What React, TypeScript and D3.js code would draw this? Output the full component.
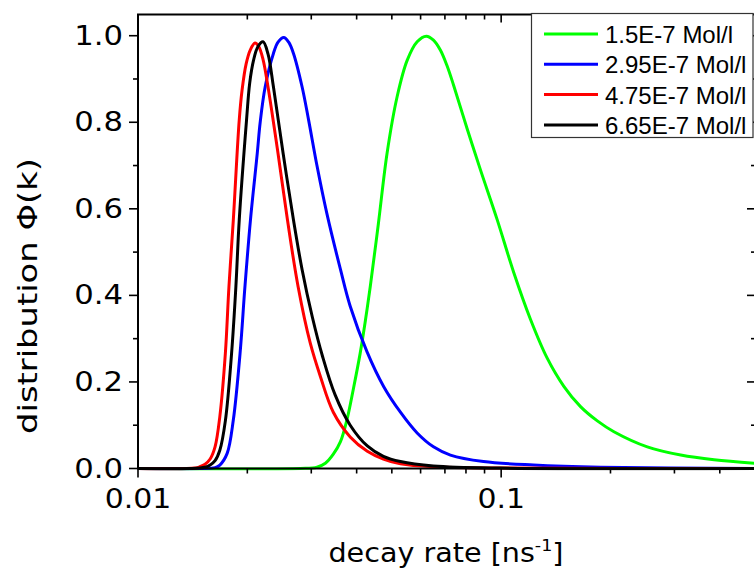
import React, { useEffect, useRef } from 'react';
import * as d3 from 'd3';

const seriesNames = ['1.5E-7 Mol/l', '2.95E-7 Mol/l', '4.75E-7 Mol/l', '6.65E-7 Mol/l'];
const seriesColors = ['#00ff00', '#0000ff', '#ff0000', '#000000'];

// decay rate k [ns^-1] and distribution phi(k)
const greenK = [0.01, 0.028, 0.0311, 0.0328, 0.0345, 0.0361, 0.0376, 0.0392, 0.0409, 0.0423, 0.0436, 0.0459, 0.0485, 0.0517, 0.0551, 0.0587, 0.0622, 0.0651, 0.068, 0.071, 0.074, 0.0806, 0.0877, 0.0975, 0.1083, 0.1204, 0.1339, 0.1488, 0.1654, 0.184, 0.2044, 0.2526, 0.3122, 0.3858, 0.5];
const greenPhi = [0, 0, 0.003, 0.012, 0.033, 0.062, 0.112, 0.185, 0.266, 0.343, 0.42, 0.565, 0.728, 0.859, 0.943, 0.986, 0.999, 0.99, 0.967, 0.93, 0.885, 0.785, 0.69, 0.575, 0.453, 0.345, 0.255, 0.19, 0.143, 0.11, 0.085, 0.05, 0.031, 0.02, 0.012];

const blueK = [0.01, 0.0148, 0.0163, 0.0168, 0.0176, 0.0183, 0.0191, 0.0197, 0.0204, 0.0213, 0.0217, 0.0224, 0.0236, 0.0243, 0.0252, 0.026, 0.0268, 0.0283, 0.0295, 0.0311, 0.0331, 0.0361, 0.0384, 0.0427, 0.0475, 0.0528, 0.0587, 0.0651, 0.0725, 0.0894, 0.1228, 0.1879, 0.5];
const bluePhi = [0, 0, 0.002, 0.008, 0.035, 0.112, 0.266, 0.42, 0.574, 0.728, 0.8, 0.882, 0.959, 0.985, 0.996, 0.985, 0.959, 0.882, 0.805, 0.7, 0.59, 0.46, 0.375, 0.27, 0.189, 0.13, 0.082, 0.05, 0.031, 0.016, 0.008, 0.003, 0];

const redK = [0.01, 0.0144, 0.0148, 0.0153, 0.0158, 0.0163, 0.0168, 0.0174, 0.0178, 0.0183, 0.019, 0.01935, 0.01985, 0.0204, 0.021, 0.0215, 0.0221, 0.0228, 0.0243, 0.0258, 0.0276, 0.0298, 0.0318, 0.0345, 0.0384, 0.0428, 0.0474, 0.0528, 0.0651, 0.0996, 0.5];
const redPhi = [0, 0.001, 0.004, 0.01, 0.022, 0.05, 0.12, 0.266, 0.42, 0.574, 0.805, 0.875, 0.935, 0.968, 0.983, 0.975, 0.945, 0.882, 0.728, 0.574, 0.42, 0.29, 0.212, 0.13, 0.073, 0.04, 0.022, 0.011, 0.004, 0.001, 0];

const blackK = [0.01, 0.0139, 0.0153, 0.0158, 0.0163, 0.0168, 0.0174, 0.0181, 0.0186, 0.019, 0.0199, 0.0203, 0.0208, 0.0214, 0.0221, 0.0228, 0.0236, 0.0251, 0.0268, 0.0283, 0.0302, 0.0322, 0.0349, 0.0384, 0.0428, 0.0474, 0.0528, 0.0651, 0.0996, 0.5];
const blackPhi = [0, 0, 0.003, 0.008, 0.018, 0.042, 0.11, 0.266, 0.42, 0.574, 0.805, 0.89, 0.943, 0.975, 0.986, 0.958, 0.882, 0.728, 0.574, 0.46, 0.35, 0.26, 0.17, 0.1, 0.052, 0.028, 0.016, 0.006, 0.001, 0];

const yTicks = [0, 0.2, 0.4, 0.6, 0.8, 1.0];
const yMinorTicks = [0.1, 0.3, 0.5, 0.7, 0.9];
const xTicks = [0.01, 0.1];
const xTickLabels = ['0.01', '0.1'];
const xMinorTicks = [0.02, 0.03, 0.04, 0.05, 0.06, 0.07, 0.08, 0.09, 0.2, 0.3, 0.4, 0.5];

const W = 754;
const H = 569;
const tickFont = 'DejaVu Sans, Verdana, sans-serif';

const Chart = () => {
  const ref = useRef(null);

  useEffect(() => {
    const svg = d3.select(ref.current);
    svg.selectAll('*').remove();

    const left = 138, right = 755, top = 14.5, bottom = 468.5;
    const x = d3.scaleLog().domain([0.01, 0.5]).range([left, right]);
    const y = d3.scaleLinear().domain([0, 1.049]).range([bottom, top]);

    const series = [
      { k: greenK, phi: greenPhi },
      { k: blueK, phi: bluePhi },
      { k: redK, phi: redPhi },
      { k: blackK, phi: blackPhi },
    ].map((s, i) => ({
      name: seriesNames[i],
      color: seriesColors[i],
      points: s.k.map((k, j) => ({ k, phi: s.phi[j] })),
    }));

    svg.append('rect').attr('width', W).attr('height', H).attr('fill', '#fff');

    svg.append('clipPath').attr('id', 'plot-clip')
      .append('rect')
      .attr('x', left).attr('y', top)
      .attr('width', right - left).attr('height', bottom - top + 2);

    const line = d3.line()
      .x(d => x(d.k))
      .y(d => y(d.phi))
      .curve(d3.curveCatmullRom.alpha(0.5));

    svg.append('g').attr('clip-path', 'url(#plot-clip)')
      .selectAll('path')
      .data(series)
      .join('path')
      .attr('fill', 'none')
      .attr('stroke', d => d.color)
      .attr('stroke-width', 3)
      .attr('stroke-linejoin', 'round')
      .attr('d', d => line(d.points));

    // frame
    svg.append('rect')
      .attr('x', left).attr('y', top)
      .attr('width', right - left).attr('height', bottom - top)
      .attr('fill', 'none').attr('stroke', '#000').attr('stroke-width', 2);

    const ticks = svg.append('g').attr('stroke', '#000').attr('stroke-width', 1.6);

    // left (outward) and right (inward)
    yTicks.forEach(v => {
      ticks.append('line').attr('x1', left - 9).attr('x2', left).attr('y1', y(v)).attr('y2', y(v));
      ticks.append('line').attr('x1', right - 8).attr('x2', right).attr('y1', y(v)).attr('y2', y(v));
    });
    yMinorTicks.forEach(v => {
      ticks.append('line').attr('x1', left - 5).attr('x2', left).attr('y1', y(v)).attr('y2', y(v));
      ticks.append('line').attr('x1', right - 4).attr('x2', right).attr('y1', y(v)).attr('y2', y(v));
    });
    // bottom (outward) and top (inward)
    xTicks.forEach(v => {
      ticks.append('line').attr('x1', x(v)).attr('x2', x(v)).attr('y1', bottom).attr('y2', bottom + 9);
      ticks.append('line').attr('x1', x(v)).attr('x2', x(v)).attr('y1', top).attr('y2', top + 8);
    });
    xMinorTicks.forEach(v => {
      ticks.append('line').attr('x1', x(v)).attr('x2', x(v)).attr('y1', bottom).attr('y2', bottom + 5);
      ticks.append('line').attr('x1', x(v)).attr('x2', x(v)).attr('y1', top).attr('y2', top + 5);
    });

    // tick labels, the source font runs wide so stretch horizontally
    svg.append('g').selectAll('text')
      .data(yTicks)
      .join('text')
      .attr('transform', d => `translate(${left - 15},${y(d) + 9}) scale(1.18,1)`)
      .attr('text-anchor', 'end')
      .attr('font-family', tickFont)
      .attr('font-size', 26)
      .attr('fill', '#000')
      .text(d => d3.format('.1f')(d));

    svg.append('g').selectAll('text')
      .data(xTicks)
      .join('text')
      .attr('transform', d => `translate(${x(d)},507.5) scale(1.15,1)`)
      .attr('text-anchor', 'middle')
      .attr('font-family', tickFont)
      .attr('font-size', 26)
      .attr('fill', '#000')
      .text((d, i) => xTickLabels[i]);

    // axis titles
    const xt = svg.append('text')
      .attr('transform', 'translate(446,562) scale(1.1,1)')
      .attr('text-anchor', 'middle')
      .attr('font-family', tickFont)
      .attr('font-size', 26)
      .attr('fill', '#000');
    xt.append('tspan').text('decay rate [ns');
    xt.append('tspan').attr('dy', -11).attr('font-size', 16).text('-1');
    xt.append('tspan').attr('dy', 11).text(']');

    svg.append('text')
      .attr('transform', 'translate(37,296) rotate(-90) scale(1.3,1)')
      .attr('text-anchor', 'middle')
      .attr('font-family', tickFont)
      .attr('font-size', 26)
      .attr('fill', '#000')
      .text('distribution \u03A6(k)');

    // legend
    const lg = svg.append('g');
    lg.append('rect')
      .attr('x', 531.5).attr('y', 13.5)
      .attr('width', 221.5).attr('height', 124)
      .attr('fill', '#fff').attr('stroke', '#333').attr('stroke-width', 1.2);
    const rows = lg.selectAll('g.row')
      .data(series)
      .join('g')
      .attr('class', 'row')
      .attr('transform', (d, i) => `translate(0,${34 + i * 30.3})`);
    rows.append('line')
      .attr('x1', 544).attr('x2', 598)
      .attr('stroke', d => d.color).attr('stroke-width', 3);
    rows.append('text')
      .attr('x', 605).attr('y', 9)
      .attr('font-family', 'Liberation Sans, Arial, sans-serif')
      .attr('font-size', 24)
      .attr('fill', '#000')
      .text(d => d.name);
  }, []);

  return <svg ref={ref} width={W} height={H} style={{ position: 'absolute', left: 0, top: 0 }}></svg>;
};

export default function App() {
  return <Chart />;
}
